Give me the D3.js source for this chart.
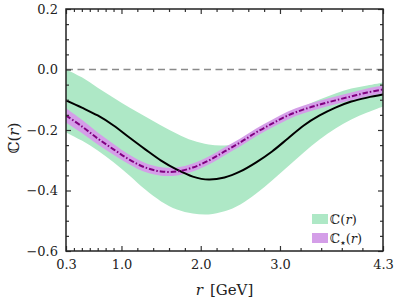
<!DOCTYPE html>
<html>
<head>
<meta charset="utf-8">
<script src="https://cdn.jsdelivr.net/npm/d3@7"></script>
<style>
  body { margin: 0; background: #fff; }
  text { font-family: "DejaVu Serif", serif; fill: #222; }
</style>
</head>
<body>
<script>
// values
const rVals = [0.3, 0.5, 0.7, 0.9, 1.1, 1.3, 1.5, 1.7, 1.9, 2.1, 2.3, 2.5, 2.7, 2.9, 3.1, 3.3, 3.5, 3.7, 3.9, 4.1, 4.3];

// C(r): central curve and green band
const cMid = [-0.102, -0.126, -0.152, -0.185, -0.225, -0.264, -0.301, -0.331, -0.354, -0.364, -0.357, -0.337, -0.307, -0.271, -0.228, -0.185, -0.152, -0.126, -0.106, -0.093, -0.083];
const cUpper = [0.0, -0.026, -0.060, -0.093, -0.126, -0.155, -0.185, -0.212, -0.235, -0.248, -0.251, -0.241, -0.218, -0.185, -0.152, -0.122, -0.099, -0.079, -0.063, -0.053, -0.043];
const cLower = [-0.208, -0.235, -0.268, -0.307, -0.350, -0.397, -0.436, -0.463, -0.476, -0.479, -0.469, -0.446, -0.410, -0.367, -0.321, -0.274, -0.231, -0.195, -0.165, -0.142, -0.122];

// C_star(r): dash-dot curve and purple band
const starMid = [-0.152, -0.188, -0.228, -0.264, -0.298, -0.324, -0.337, -0.337, -0.324, -0.301, -0.271, -0.241, -0.208, -0.179, -0.152, -0.132, -0.116, -0.102, -0.089, -0.076, -0.066];
const starUpper = [-0.128, -0.166, -0.208, -0.246, -0.282, -0.309, -0.323, -0.324, -0.311, -0.288, -0.258, -0.228, -0.195, -0.166, -0.139, -0.119, -0.103, -0.089, -0.076, -0.063, -0.053];
const starLower = [-0.176, -0.210, -0.248, -0.282, -0.314, -0.339, -0.351, -0.350, -0.337, -0.314, -0.284, -0.254, -0.221, -0.192, -0.165, -0.145, -0.129, -0.115, -0.102, -0.089, -0.079];

// ticks
const xMajor = [0.3, 1.0, 2.0, 3.0, 4.3];
const xMinor = [0.4, 0.5, 0.6, 0.7, 0.8, 0.9, 1.2, 1.4, 1.6, 1.8, 2.2, 2.4, 2.6, 2.8, 3.26, 3.52, 3.78, 4.04];
const yMajor = [0.2, 0.0, -0.2, -0.4, -0.6];
const yMinor = [0.15, 0.1, 0.05, -0.05, -0.1, -0.15, -0.25, -0.3, -0.35, -0.45, -0.5, -0.55];

let width = 395, height = 301;
let mLeft = 66, mRight = 383, mTop = 9, mBottom = 251;

let x = d3.scaleLinear().domain([0.3, 4.3]).range([mLeft, mRight]);
let y = d3.scaleLinear().domain([-0.6, 0.2]).range([mBottom, mTop]);

let svg = d3.select("body").append("svg")
  .attr("width", width)
  .attr("height", height);

let rows = rVals.map((r, i) => ({
  r: r, mid: cMid[i], up: cUpper[i], lo: cLower[i],
  sMid: starMid[i], sUp: starUpper[i], sLo: starLower[i]
}));

let curve = d3.curveCatmullRom;

svg.append("defs").append("clipPath").attr("id", "clip")
  .append("rect").attr("x", mLeft).attr("y", mTop)
  .attr("width", mRight - mLeft).attr("height", mBottom - mTop);

let plot = svg.append("g").attr("clip-path", "url(#clip)");

// zero line
plot.append("line")
  .attr("x1", mLeft).attr("x2", mRight)
  .attr("y1", y(0)).attr("y2", y(0))
  .attr("stroke", "#8a8a8a")
  .attr("stroke-width", 1.5)
  .attr("stroke-dasharray", "7,4.5");

// green band
plot.append("path")
  .datum(rows)
  .attr("fill", "#aee8c6")
  .attr("d", d3.area().curve(curve).x(d => x(d.r)).y0(d => y(d.lo)).y1(d => y(d.up)));

// purple band
plot.append("path")
  .datum(rows)
  .attr("fill", "#d49ee8")
  .attr("d", d3.area().curve(curve).x(d => x(d.r)).y0(d => y(d.sLo)).y1(d => y(d.sUp)));

// black curve
plot.append("path")
  .datum(rows)
  .attr("fill", "none")
  .attr("stroke", "#000")
  .attr("stroke-width", 2)
  .attr("d", d3.line().curve(curve).x(d => x(d.r)).y(d => y(d.mid)));

// purple dash-dot curve
plot.append("path")
  .datum(rows)
  .attr("fill", "none")
  .attr("stroke", "#800080")
  .attr("stroke-width", 2)
  .attr("stroke-dasharray", "5.5,2,1.5,2")
  .attr("d", d3.line().curve(curve).x(d => x(d.r)).y(d => y(d.sMid)));

// axes, ticks inward on all four sides
let fmt = d => d3.format(".1f")(d).replace("-", "\u2212");

let addAxis = (axis, tr, labels) => {
  let g = svg.append("g").attr("transform", tr).call(axis);
  g.select(".domain").remove();
  g.selectAll(".tick line").attr("stroke", "#333").attr("stroke-width", 1.2);
  g.selectAll(".tick text")
    .attr("font-family", "DejaVu Serif")
    .attr("font-size", 13)
    .attr("fill", "#222");
  if (!labels) g.selectAll(".tick text").remove();
  return g;
};

addAxis(d3.axisBottom(x).tickValues(xMajor).tickSize(-5).tickPadding(9).tickFormat(fmt), `translate(0,${mBottom})`, true);
addAxis(d3.axisBottom(x).tickValues(xMinor).tickSize(-3), `translate(0,${mBottom})`, false);
addAxis(d3.axisTop(x).tickValues(xMajor).tickSize(-5), `translate(0,${mTop})`, false);
addAxis(d3.axisTop(x).tickValues(xMinor).tickSize(-3), `translate(0,${mTop})`, false);

addAxis(d3.axisLeft(y).tickValues(yMajor).tickSize(-5).tickPadding(8).tickFormat(fmt), `translate(${mLeft},0)`, true);
addAxis(d3.axisLeft(y).tickValues(yMinor).tickSize(-3), `translate(${mLeft},0)`, false);
addAxis(d3.axisRight(y).tickValues(yMajor).tickSize(-5), `translate(${mRight},0)`, false);
addAxis(d3.axisRight(y).tickValues(yMinor).tickSize(-3), `translate(${mRight},0)`, false);

// frame
svg.append("rect")
  .attr("x", mLeft).attr("y", mTop)
  .attr("width", mRight - mLeft).attr("height", mBottom - mTop)
  .attr("fill", "none")
  .attr("stroke", "#222")
  .attr("stroke-width", 1.5);

// axis titles
let xt = svg.append("text")
  .attr("x", (mLeft + mRight) / 2)
  .attr("y", 295)
  .attr("text-anchor", "middle")
  .attr("font-size", 15);
xt.append("tspan").attr("font-style", "italic").text("r");
xt.append("tspan").attr("dx", 7).text("[GeV]");

let yt = svg.append("text")
  .attr("transform", `translate(19,${(mTop + mBottom) / 2 + 8}) rotate(-90)`)
  .attr("text-anchor", "middle")
  .attr("font-size", 15);
yt.append("tspan").text("\u2102(");
yt.append("tspan").attr("font-style", "italic").text("r");
yt.append("tspan").text(")");

// legend
let legend = [
  { fill: "#aee8c6", star: false },
  { fill: "#d49ee8", star: true }
];
let lg = svg.append("g");
legend.forEach((d, i) => {
  let yy = 214 + i * 19;
  lg.append("rect")
    .attr("x", 312).attr("y", yy)
    .attr("width", 16).attr("height", 10)
    .attr("fill", d.fill);
  let t = lg.append("text")
    .attr("x", 330).attr("y", yy + 10)
    .attr("font-size", 13);
  t.append("tspan").text("\u2102");
  if (d.star) {
    t.append("tspan")
      .attr("font-family", "DejaVu Sans")
      .attr("font-size", 6)
      .attr("dy", 2)
      .text("\u2605");
  }
  t.append("tspan").attr("dy", d.star ? -2 : 0).text("(");
  t.append("tspan").attr("font-style", "italic").text("r");
  t.append("tspan").text(")");
});
</script>
</body>
</html>
